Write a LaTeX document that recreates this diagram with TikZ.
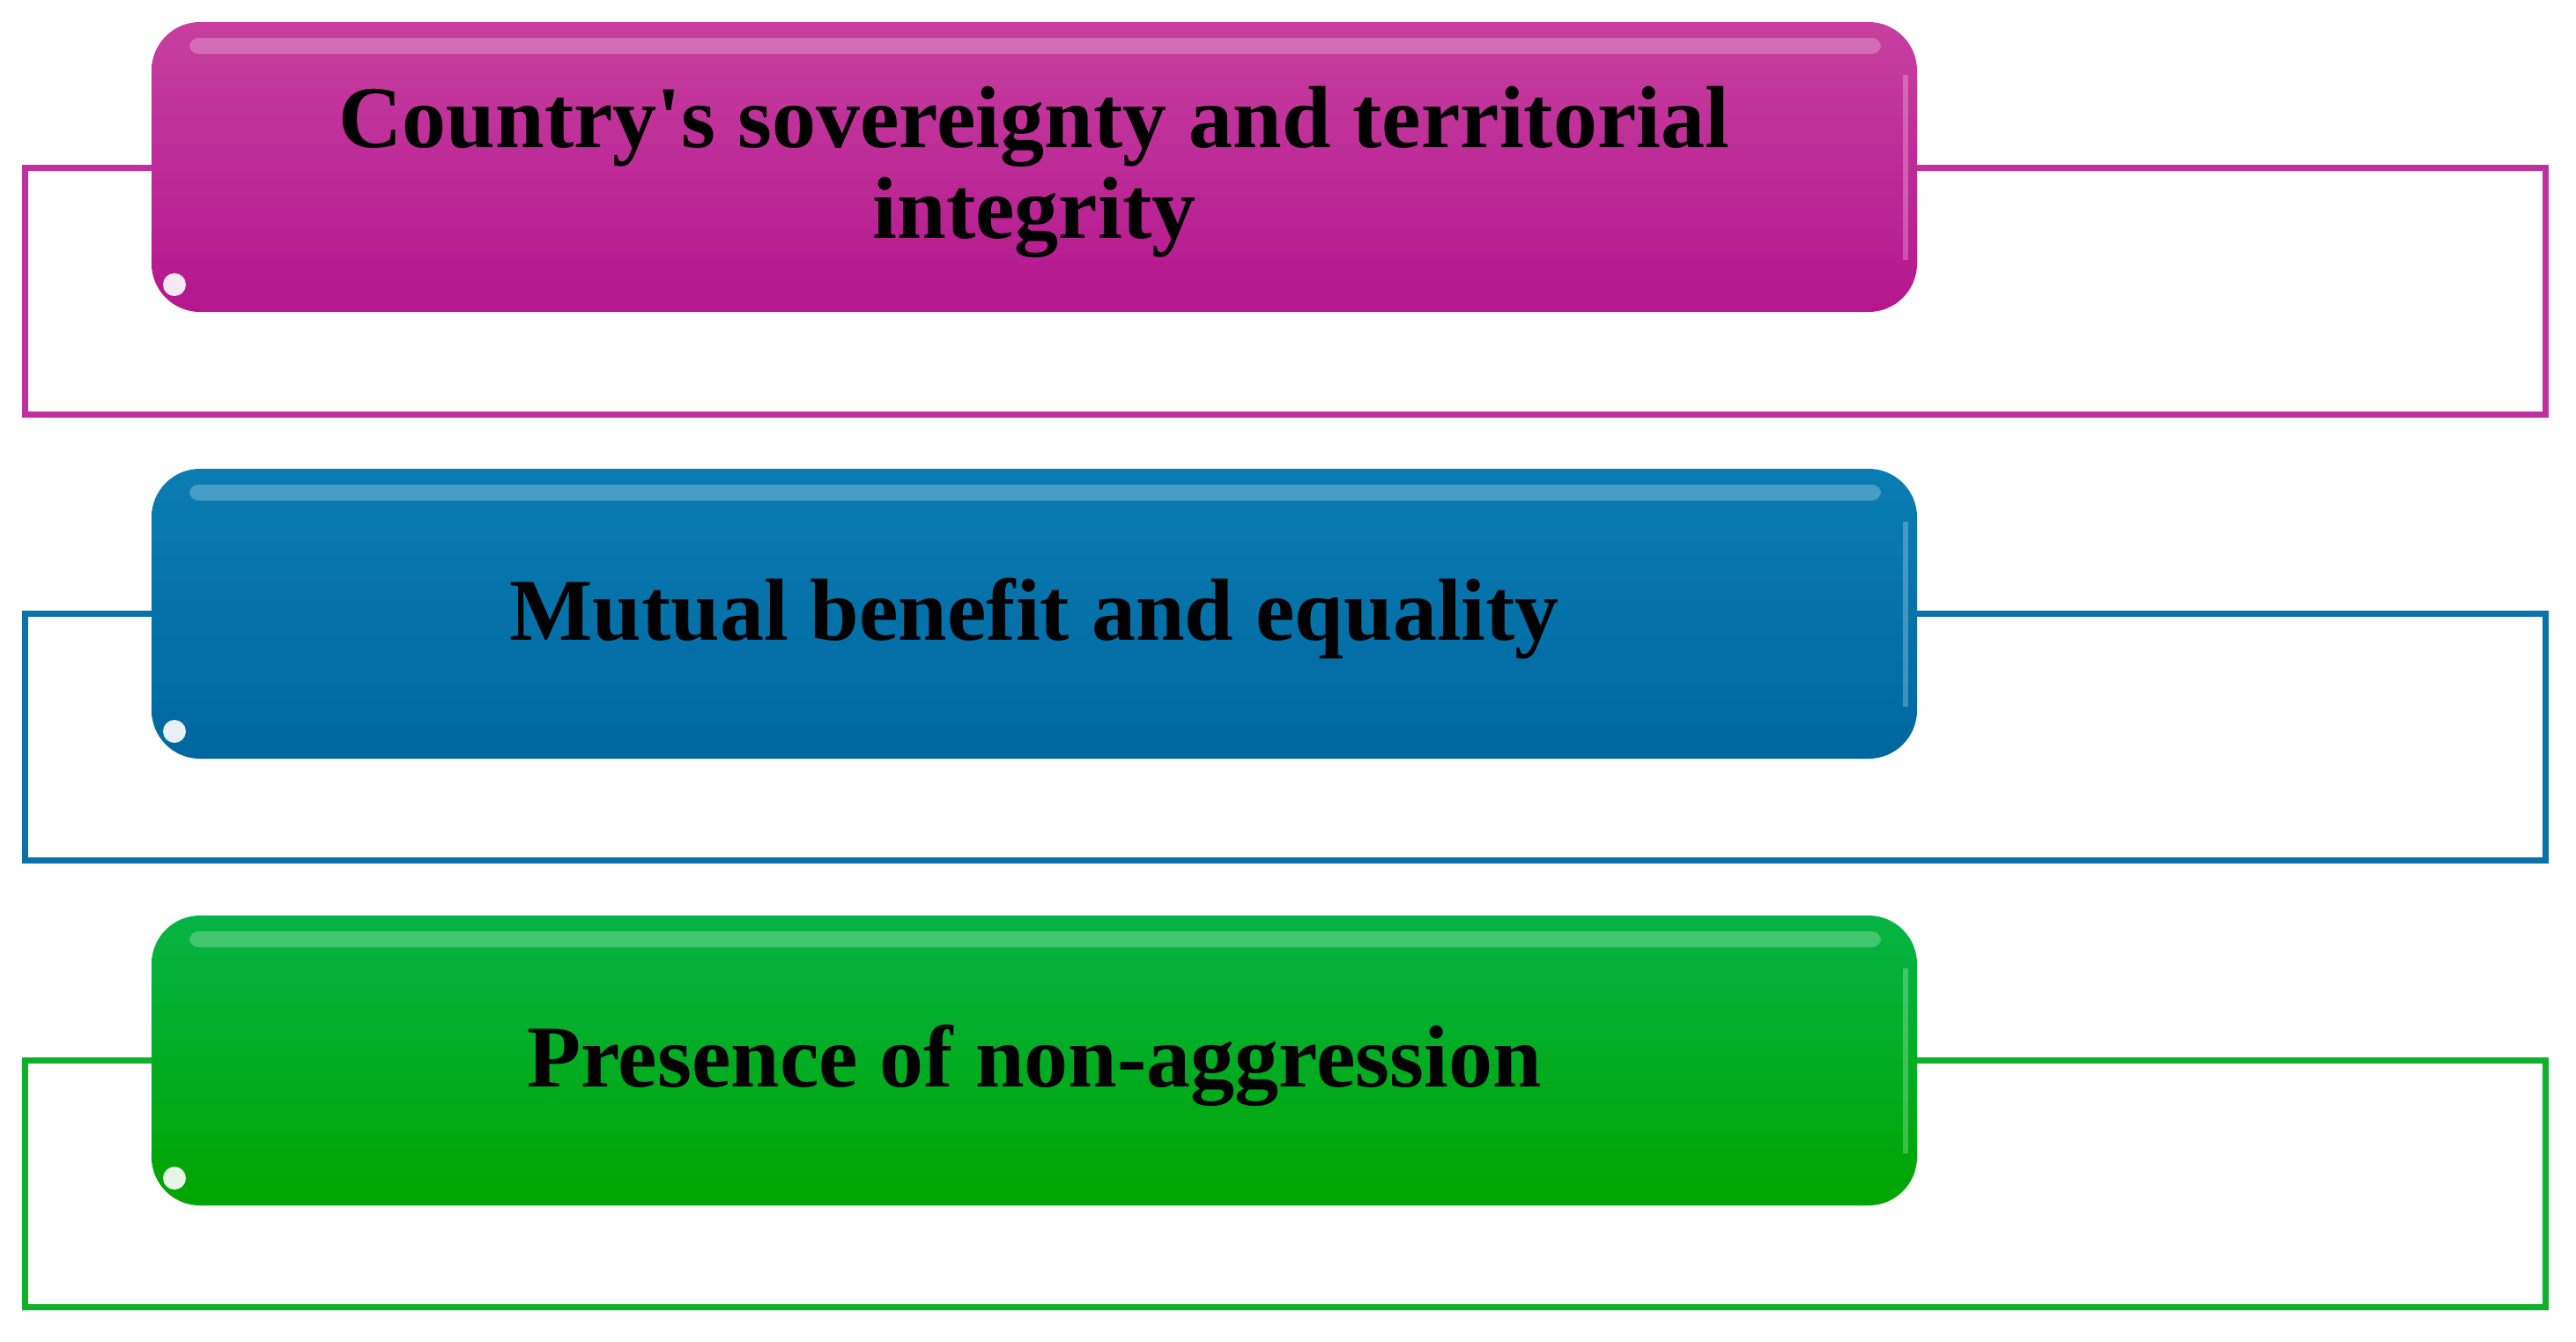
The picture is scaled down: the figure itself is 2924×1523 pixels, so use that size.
\documentclass[tikz,border=0pt]{standalone}
\usepackage{fontspec}
\setmainfont{Liberation Serif}[Ligatures=TeXOff]
\usetikzlibrary{fadings}
\definecolor{magA}{HTML}{C6409F}
\definecolor{magB}{HTML}{B4168E}
\definecolor{magL}{HTML}{C0309E}
\definecolor{bluA}{HTML}{0A7DB2}
\definecolor{bluB}{HTML}{0067A0}
\definecolor{bluL}{HTML}{0A72A8}
\definecolor{grnA}{HTML}{05B445}
\definecolor{grnB}{HTML}{00A500}
\definecolor{grnL}{HTML}{10B02A}
\tikzset{
  frame/.style={line width=7pt},
  barlabel/.style={text=black, font=\bfseries\fontsize{100}{103}\selectfont, align=center},
}
\newcommand{\glossbar}[5]{% name, top y, top colour, bottom colour, text
  \shade[rounded corners=55pt, top color=#3, bottom color=#4]
    (172,#2) rectangle (2176,#2+329);
  \fill[white, opacity=0.25, rounded corners=10pt] (215,#2+18) rectangle (2135,#2+36);
  \fill[white, opacity=0.25] (2160,#2+60) rectangle (2166,#2+270);
  \fill[white, opacity=0.9] (198,#2+298) circle (13pt);
  \node[barlabel] (#1) at (1174,#2+170) {#5};
}
\begin{document}
\begin{tikzpicture}[x=1pt,y=-1pt]
\useasboundingbox (0,0) rectangle (2924,1523);
% outline frames
\draw[frame, magL] (28,190) rectangle (2889,470);
\draw[frame, bluL] (28,696) rectangle (2889,976);
\draw[frame, grnL] (28,1203) rectangle (2889,1483);
% bars
\glossbar{b1}{25}{magA}{magB}{Country's sovereignty and territorial\\integrity}
\glossbar{b2}{532}{bluA}{bluB}{Mutual benefit and equality}
\glossbar{b3}{1039}{grnA}{grnB}{Presence of non-aggression}
\end{tikzpicture}
\end{document}
